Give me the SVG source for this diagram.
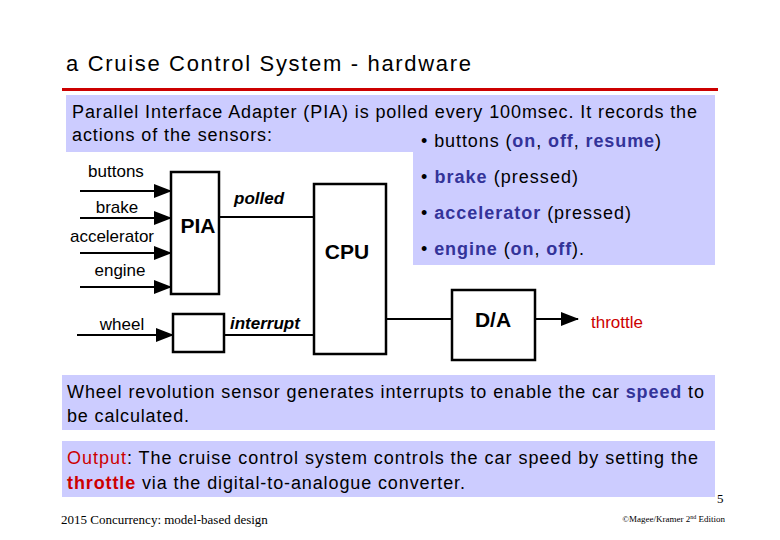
<svg xmlns="http://www.w3.org/2000/svg" width="780" height="540" viewBox="0 0 780 540">
<style>
.t{font-family:"Liberation Sans",Arial,sans-serif;fill:#000}
.bx{fill:#fff;stroke:#000;stroke-width:2.5}
.ln{stroke:#000;stroke-width:2;fill:none}
.bg{fill:#ccccff}
.bl{fill:#333399;font-weight:bold}
.rd{fill:#cc0000}
</style>
<defs>
<marker id="b" markerWidth="18" markerHeight="14" refX="17" refY="7" orient="auto" markerUnits="userSpaceOnUse"><path d="M0,0L18,7L0,14z" fill="#000"/></marker></defs>
<rect width="780" height="540" fill="#fff"/>
<text class="t" x="66" y="71" font-size="22" textLength="405">a Cruise Control System - hardware</text>
<rect x="62" y="88" width="656" height="3" fill="#cc0000"/>
<rect class="bg" x="66" y="95" width="649" height="57"/>
<rect class="bg" x="413" y="152" width="302" height="113"/>
<text class="t" x="72" y="118" font-size="18" textLength="625">Parallel Interface Adapter (PIA) is polled every 100msec. It records the</text>
<text class="t" x="72" y="141" font-size="18" textLength="200">actions of the sensors:</text>
<text class="t" x="421" y="147" font-size="18" textLength="240">• buttons (<tspan class="bl">on</tspan>, <tspan class="bl">off</tspan>, <tspan class="bl">resume</tspan>)</text>
<text class="t" x="421" y="183" font-size="18" textLength="157">• <tspan class="bl">brake</tspan> (pressed)</text>
<text class="t" x="421" y="219" font-size="18" textLength="210">• <tspan class="bl">accelerator</tspan> (pressed)</text>
<text class="t" x="421" y="255" font-size="18" textLength="163">• <tspan class="bl">engine</tspan> (<tspan class="bl">on</tspan>, <tspan class="bl">off</tspan>).</text>
<g id="connectors">
<line class="ln" x1="80" y1="191" x2="171" y2="191" marker-end="url(#b)"/>
<line class="ln" x1="80" y1="218" x2="171" y2="218" marker-end="url(#b)"/>
<line class="ln" x1="80" y1="253" x2="171" y2="253" marker-end="url(#b)"/>
<line class="ln" x1="80" y1="287" x2="171" y2="287" marker-end="url(#b)"/>
<line class="ln" x1="77" y1="335" x2="173" y2="335" marker-end="url(#b)"/>
<line class="ln" x1="219" y1="217" x2="314" y2="217"/>
<line class="ln" x1="224" y1="335" x2="314" y2="335"/>
<line class="ln" x1="386" y1="319" x2="452" y2="319"/>
<line class="ln" x1="535" y1="319" x2="578" y2="319" marker-end="url(#b)"/>
<text class="t" x="234" y="204" font-size="17" font-weight="bold" font-style="italic">polled</text>
<text class="t" x="230" y="329" font-size="17" font-weight="bold" font-style="italic">interrupt</text>
</g>
<g id="labels" class="t" font-size="17" text-anchor="middle">
<text x="116" y="177">buttons</text>
<text x="117" y="213">brake</text>
<text x="112" y="242">accelerator</text>
<text x="120" y="276">engine</text>
<text x="122" y="330">wheel</text>
</g>
<g id="pia"><rect class="bx" x="171" y="172" width="48" height="122"/><text class="t" x="198" y="233" font-size="21" font-weight="bold" text-anchor="middle">PIA</text></g>
<g id="wheelbox"><rect class="bx" x="173" y="314" width="51" height="38"/></g>
<g id="cpu"><rect class="bx" x="314" y="184" width="72" height="170"/><text class="t" x="347" y="259" font-size="21" font-weight="bold" text-anchor="middle">CPU</text></g>
<g id="da"><rect class="bx" x="452" y="290" width="83" height="70"/><text class="t" x="493" y="327" font-size="21" font-weight="bold" text-anchor="middle">D/A</text></g>
<text class="t rd" x="591" y="328" font-size="17">throttle</text>
<rect class="bg" x="62" y="375" width="653" height="55"/>
<text class="t" x="67" y="398" font-size="18" textLength="637">Wheel revolution sensor generates interrupts to enable the car <tspan class="bl">speed</tspan> to</text>
<text class="t" x="67" y="422" font-size="18" textLength="122">be calculated.</text>
<rect class="bg" x="62" y="441" width="653" height="56"/>
<text class="t" x="67" y="464" font-size="18" textLength="631"><tspan class="rd">Output</tspan>:  The cruise control system controls the car speed by setting the</text>
<text class="t" x="67" y="489" font-size="18" textLength="398"><tspan class="rd" font-weight="bold">throttle</tspan> via the digital-to-analogue converter.</text>
<text x="717" y="503" font-family="Liberation Serif,serif" font-size="13">5</text>
<text x="61" y="524" font-family="Liberation Serif,serif" font-size="13">2015  Concurrency: model-based design</text>
<text x="725" y="522" font-family="Liberation Serif,serif" font-size="9" text-anchor="end">©Magee/Kramer 2<tspan font-size="6" dy="-3">nd</tspan><tspan dy="3"> Edition</tspan></text>
</svg>
